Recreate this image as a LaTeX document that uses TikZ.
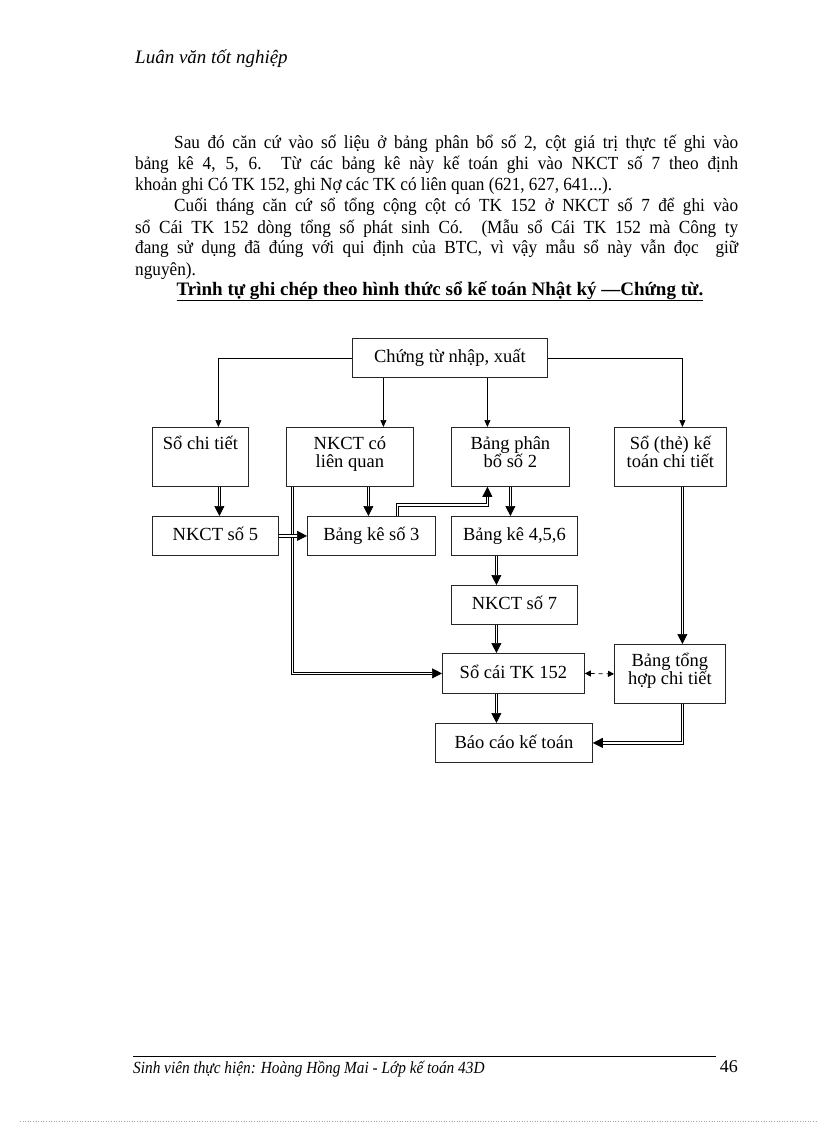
\documentclass[tikz,border=0pt]{standalone}
\usepackage{fontspec}
\setmainfont{Liberation Serif}
\newfontfamily\condserif[FakeStretch=0.93]{Liberation Serif}
\newfontfamily\condital[FakeStretch=0.9]{Liberation Serif Italic}
\usetikzlibrary{arrows.meta,calc}
\begin{document}
\begin{tikzpicture}[x=1pt,y=-1pt,
  box/.style={draw=black!85, line width=0.8pt, anchor=north west, inner sep=0pt},
  lbl/.style={font=\fontsize{18.5}{18}\selectfont, align=center, inner sep=0pt},
  thinarrow/.style={draw, line width=0.7pt, -{Triangle[length=7pt,width=6pt]}},
  dbl/.style={draw, double, double distance=1.8pt, line width=0.7pt, -{Triangle[length=10pt,width=10pt]}},
  dashedarrow/.style={draw, dash pattern=on 4pt off 4pt, line width=0.8pt, {Triangle[length=6pt,width=6pt]}-{Triangle[length=6pt,width=6pt]}},
  body/.style={anchor=base west, text width=603pt, align=justify, inner sep=0pt, font=\condserif\fontsize{18.5}{21}\selectfont},
]
\useasboundingbox (0,0) rectangle (816,1123);
\fill[white] (0,0) rectangle (816,1123);

% header
\node[anchor=base west, inner sep=0pt, font=\itshape\fontsize{19}{19}\selectfont] (hdr) at (135,64) {Luân văn tốt nghiệp};

% paragraphs
\node[body] (p1) at (135,149) {\hspace*{39pt}Sau đó căn cứ vào số liệu ở bảng phân bổ số 2, cột giá trị thực tế ghi vào\linebreak bảng kê 4, 5, 6. Từ các bảng kê này kế toán ghi vào NKCT số 7 theo định\linebreak khoản ghi Có TK 152, ghi Nợ các TK có liên quan (621, 627, 641...).};
\node[body] (p2) at (135,212) {\hspace*{39pt}Cuối tháng căn cứ sổ tổng cộng cột có TK 152 ở NKCT số 7 để ghi vào\linebreak sổ Cái TK 152 dòng tổng số phát sinh Có. (Mẫu sổ Cái TK 152 mà Công ty\linebreak đang sử dụng đã đúng với qui định của BTC, vì vậy mẫu sổ này vẫn đọc\ \ giữ\linebreak nguyên).};
\node[anchor=base, inner sep=0pt, font=\bfseries\fontsize{19}{21}\selectfont] (ttl) at (440,295) {\underline{Trình tự ghi chép theo hình thức sổ kế toán Nhật ký —Chứng từ.}};

% boxes
\node[box, minimum width=195pt, minimum height=39pt] (ct) at (352,338) {};
\node[box, minimum width=96pt, minimum height=59pt] (sct) at (152,427) {};
\node[box, minimum width=127pt, minimum height=59pt] (nkcl) at (286,427) {};
\node[box, minimum width=118pt, minimum height=59pt] (bpb) at (451,427) {};
\node[box, minimum width=112pt, minimum height=59pt] (sthe) at (614,427) {};
\node[box, minimum width=126pt, minimum height=39pt] (nk5) at (152,516) {};
\node[box, minimum width=128pt, minimum height=39pt] (bk3) at (307,516) {};
\node[box, minimum width=126pt, minimum height=39pt] (bk456) at (451,516) {};
\node[box, minimum width=126pt, minimum height=39pt] (nk7) at (451,585) {};
\node[box, minimum width=142pt, minimum height=40pt] (sc) at (442,653) {};
\node[box, minimum width=111pt, minimum height=59pt] (bth) at (614,644) {};
\node[box, minimum width=157pt, minimum height=39pt] (bc) at (435,723) {};

% labels
\node[lbl, anchor=base] (tct) at ($(ct.north)+(0,24)$) {Chứng từ nhập, xuất};
\node[lbl, anchor=base] (tsct) at ($(sct.north)+(0,22)$) {Sổ chi tiết};
\node[lbl, anchor=base] (tnkcl) at ($(nkcl.north)+(0,40)$) {NKCT có\\liên quan};
\node[lbl, anchor=base] (tbpb) at ($(bpb.north)+(0,40)$) {Bảng phân\\bổ số 2};
\node[lbl, anchor=base] (tsthe) at ($(sthe.north)+(0,40)$) {Sổ (thẻ) kế\\toán chi tiết};
\node[lbl, anchor=base] (tnk5) at ($(nk5.north)+(0,24)$) {NKCT số 5};
\node[lbl, anchor=base] (tbk3) at ($(bk3.north)+(0,24)$) {Bảng kê số 3};
\node[lbl, anchor=base] (tbk456) at ($(bk456.north)+(0,24)$) {Bảng kê 4,5,6};
\node[lbl, anchor=base] (tnk7) at ($(nk7.north)+(0,24)$) {NKCT số 7};
\node[lbl, anchor=base] (tsc) at ($(sc.north)+(0,25)$) {Sổ cái TK 152};
\node[lbl, anchor=base] (tbth) at ($(bth.north)+(0,40)$) {Bảng tổng\\hợp chi tiết};
\node[lbl, anchor=base] (tbc) at ($(bc.north)+(0,25)$) {Báo cáo kế toán};

% thin arrows from Chung tu
\draw[thinarrow] (ct.west) -| ([xshift=18pt]sct.north);
\draw[thinarrow] (ct.east) -| ([xshift=12pt]sthe.north);
\draw[thinarrow] ([xshift=-66.5pt]ct.south) -- ([xshift=-66.5pt]ct.south |- nkcl.north);
\draw[thinarrow] ([xshift=37.5pt]ct.south) -- ([xshift=37.5pt]ct.south |- bpb.north);

% double arrows
\draw[dbl] ([xshift=19pt]sct.south) -- ([xshift=19pt]sct.south |- nk5.north);
\draw[dbl] ([xshift=18.5pt]nkcl.south) -- ([xshift=18.5pt]nkcl.south |- bk3.north);
\draw[dbl] ([xshift=-57.5pt]nkcl.south) |- (sc.west);
\draw[dbl] (nk5.east) -- (bk3.west);
\draw[dbl] ([xshift=26pt]bk3.north) -- ++(0,-11) -| ([xshift=-23pt]bpb.south);
\draw[dbl] (bpb.south) -- (bpb.south |- bk456.north);
\draw[dbl] ([xshift=-18pt]bk456.south) -- ([xshift=-18pt]bk456.south |- nk7.north);
\draw[dbl] ([xshift=-18pt]nk7.south) -- ([xshift=-18pt]nk7.south |- sc.north);
\draw[dbl] ([xshift=-17pt]sc.south) -- ([xshift=-17pt]sc.south |- bc.north);
\draw[dbl] ([xshift=12pt]sthe.south) -- ([xshift=12pt]sthe.south |- bth.north);
\draw[dbl] ([xshift=12.5pt]bth.south) |- (bc.east);
\draw[dashedarrow] (sc.east) -- (bth.west);

% footer
\coordinate (fl) at (133,1056);
\coordinate (fr) at (716,1056);
\draw[line width=0.7pt] (fl) -- (fr);
\node[anchor=base west, inner sep=0pt, font=\condital\fontsize{17}{18}\selectfont] (ftr) at (133,1073) {Sinh viên thực hiện: Hoàng Hồng Mai - Lớp kế toán 43D};
\node[anchor=base east, inner sep=0pt, font=\fontsize{18}{18}\selectfont] (pg) at (738,1072) {46};
\coordinate (dl) at (20,1121);
\coordinate (dr) at (816,1121);
\draw[black!35, dotted, line width=0.6pt] (dl) -- (dr);
\end{tikzpicture}
\end{document}
